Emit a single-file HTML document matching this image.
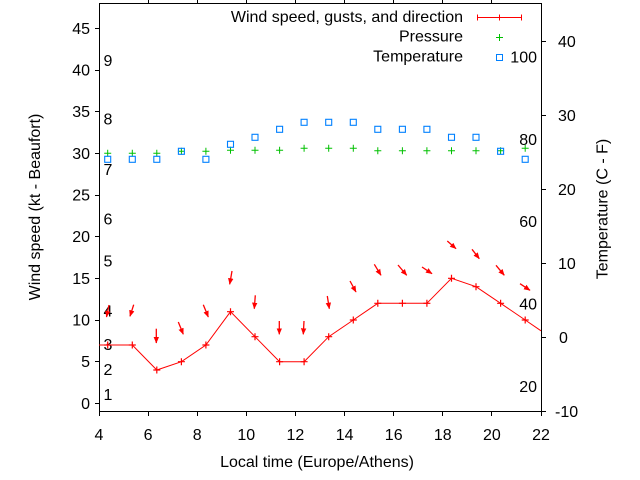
<!DOCTYPE html>
<html><head><meta charset="utf-8"><style>
html,body{margin:0;padding:0;background:#fff;}
svg{display:block;}
text{font-family:"Liberation Sans",Arial,sans-serif;font-size:16px;fill:#000;}
</style></head><body>
<svg width="640" height="480" viewBox="0 0 640 480" xmlns="http://www.w3.org/2000/svg">
<defs>
<marker id="ah" markerUnits="userSpaceOnUse" markerWidth="10" markerHeight="10" refX="6" refY="3" orient="auto">
<path d="M0,0.3 L6.5,3 L0,5.7 z" fill="#ff0000"/>
</marker>
</defs>
<rect width="640" height="480" fill="#fff"/>

<!-- frame -->
<g stroke="#000" stroke-width="1" shape-rendering="crispEdges" fill="none">
<rect x="99.5" y="3.5" width="442" height="408"/>
<!-- bottom ticks -->
<path d="M99.5,411V416M148.5,411V416M197.5,411V416M246.5,411V416M295.5,411V416M344.5,411V416M393.5,411V416M442.5,411V416M491.5,411V416M541.5,411V416"/>
<!-- top ticks -->
<path d="M148.5,0V3M197.5,0V3M246.5,0V3M295.5,0V3M344.5,0V3M393.5,0V3M442.5,0V3M491.5,0V3"/>
<!-- left ticks -->
<path d="M95,403.5H99M95,361.5H99M95,320.5H99M95,278.5H99M95,236.5H99M95,195.5H99M95,153.5H99M95,111.5H99M95,70.5H99M95,28.5H99"/>
<!-- right ticks -->
<path d="M541,411.5H546M541,337.5H546M541,263.5H546M541,189.5H546M541,115.5H546M541,41.5H546"/>
</g>

<!-- x tick labels -->
<g text-anchor="middle">
<text x="99" y="440">4</text>
<text x="148.1" y="440">6</text>
<text x="197.2" y="440">8</text>
<text x="246.3" y="440">10</text>
<text x="295.4" y="440">12</text>
<text x="344.6" y="440">14</text>
<text x="393.7" y="440">16</text>
<text x="442.8" y="440">18</text>
<text x="491.9" y="440">20</text>
<text x="541" y="440">22</text>
<text x="317" y="467">Local time (Europe/Athens)</text>
</g>

<!-- left y labels -->
<g text-anchor="end">
<text x="90" y="409">0</text>
<text x="90" y="367">5</text>
<text x="90" y="325.5">10</text>
<text x="90" y="284">15</text>
<text x="90" y="242">20</text>
<text x="90" y="200.5">25</text>
<text x="90" y="159">30</text>
<text x="90" y="117">35</text>
<text x="90" y="75.5">40</text>
<text x="90" y="34">45</text>
</g>

<!-- right y labels -->
<g>
<text x="555" y="417">-10</text>
<text x="559" y="343">0</text>
<text x="558" y="269">10</text>
<text x="558" y="195">20</text>
<text x="558" y="121">30</text>
<text x="558" y="47">40</text>
</g>

<!-- Fahrenheit labels inside -->
<g text-anchor="end">
<text x="537" y="392">20</text>
<text x="537" y="309.5">40</text>
<text x="537" y="227">60</text>
<text x="537" y="145">80</text>
<text x="537" y="62.5">100</text>
</g>

<!-- Beaufort labels inside -->
<g>
<text x="103.5" y="400">1</text>
<text x="103.5" y="375">2</text>
<text x="103.5" y="350">3</text>
<text x="103.5" y="316.5">4</text>
<text x="103.5" y="266.5">5</text>
<text x="103.5" y="224.5">6</text>
<text x="103.5" y="175">7</text>
<text x="103.5" y="124.5">8</text>
<text x="103.5" y="66">9</text>
</g>

<!-- axis titles -->
<text transform="translate(40,207) rotate(-90)" text-anchor="middle">Wind speed (kt - Beaufort)</text>
<text transform="translate(607.5,209) rotate(-90)" text-anchor="middle">Temperature (C - F)</text>

<!-- legend -->
<g text-anchor="end">
<text x="463" y="22">Wind speed, gusts, and direction</text>
<text x="463" y="41.7">Pressure</text>
<text x="463" y="61.7">Temperature</text>
</g>
<g stroke="#ff0000" stroke-width="1" fill="none" shape-rendering="crispEdges">
<path d="M477,17.5H522M477.5,14.5V20.5M499.5,14.5V20.5M521.5,14.5V20.5"/>
</g>
<g stroke="#00c000" stroke-width="1" fill="none" shape-rendering="crispEdges">
<path d="M496,37.5H503M499.5,34V41"/>
</g>
<rect x="496.5" y="54.5" width="6" height="6" fill="none" stroke="#0080ff" stroke-width="1" shape-rendering="crispEdges"/>

<!-- pressure markers -->
<g stroke="#00c000" stroke-width="1" fill="none">
<path d="M104.2,153.3h7M107.7,149.8v7
M128.8,153.3h7M132.3,149.8v7
M153.3,153.3h7M156.8,149.8v7
M177.9,151.3h7M181.4,147.8v7
M202.4,151.3h7M205.9,147.8v7
M227,150.3h7M230.5,146.8v7
M251.5,150.3h7M255,146.8v7
M276.1,150.3h7M279.6,146.8v7
M300.6,148.3h7M304.1,144.8v7
M325.2,148.3h7M328.7,144.8v7
M349.8,148.3h7M353.3,144.8v7
M374.3,150.7h7M377.8,147.2v7
M398.9,150.7h7M402.4,147.2v7
M423.4,150.7h7M426.9,147.2v7
M448,150.7h7M451.5,147.2v7
M472.5,150.7h7M476,147.2v7
M497.1,150.7h7M500.6,147.2v7
M521.7,148.3h7M525.2,144.8v7"/>
</g>

<!-- temperature squares -->
<g stroke="#0080ff" stroke-width="1.1" fill="none">
<rect x="104.7" y="156.3" width="6" height="6"/>
<rect x="129.3" y="156.3" width="6" height="6"/>
<rect x="153.8" y="156.3" width="6" height="6"/>
<rect x="178.4" y="148.3" width="6" height="6"/>
<rect x="202.9" y="156.3" width="6" height="6"/>
<rect x="227.5" y="141.3" width="6" height="6"/>
<rect x="252" y="134.3" width="6" height="6"/>
<rect x="276.6" y="126.3" width="6" height="6"/>
<rect x="301.1" y="119.3" width="6" height="6"/>
<rect x="325.7" y="119.3" width="6" height="6"/>
<rect x="350.3" y="119.3" width="6" height="6"/>
<rect x="374.8" y="126.3" width="6" height="6"/>
<rect x="399.4" y="126.3" width="6" height="6"/>
<rect x="423.9" y="126.3" width="6" height="6"/>
<rect x="448.5" y="134.3" width="6" height="6"/>
<rect x="473" y="134.3" width="6" height="6"/>
<rect x="497.6" y="148.3" width="6" height="6"/>
<rect x="522.2" y="156.3" width="6" height="6"/>
</g>

<!-- wind line -->
<polyline fill="none" stroke="#ff0000" stroke-width="1" points="99,345 107.7,345 132.3,345 156.8,370 181.4,361.7 205.9,345 230.5,311.7 255,336.7 279.6,361.7 304.1,361.7 328.7,336.7 353.3,320 377.8,303.3 402.4,303.3 426.9,303.3 451.5,278.3 476,286.7 500.6,303.3 525.2,320 541,330.8"/>
<g stroke="#ff0000" stroke-width="1.2" fill="none">
<path d="M104.2,345h7M107.7,341.5v7
M128.8,345h7M132.3,341.5v7
M153.3,370h7M156.8,366.5v7
M177.9,361.7h7M181.4,358.2v7
M202.4,345h7M205.9,341.5v7
M227,311.7h7M230.5,308.2v7
M251.5,336.7h7M255,333.2v7
M276.1,361.7h7M279.6,358.2v7
M300.6,361.7h7M304.1,358.2v7
M325.2,336.7h7M328.7,333.2v7
M349.8,320h7M353.3,316.5v7
M374.3,303.3h7M377.8,299.8v7
M398.9,303.3h7M402.4,299.8v7
M423.4,303.3h7M426.9,299.8v7
M448,278.3h7M451.5,274.8v7
M472.5,286.7h7M476,283.2v7
M497.1,303.3h7M500.6,299.8v7
M521.7,320h7M525.2,316.5v7"/>
</g>

<!-- direction arrows -->
<g stroke="#ff0000" stroke-width="1.3" fill="none" marker-end="url(#ah)">
<line x1="109" y1="305" x2="106.5" y2="317"/>
<line x1="133.7" y1="304.7" x2="130" y2="316.3"/>
<line x1="156.3" y1="328.7" x2="156.3" y2="343"/>
<line x1="178.3" y1="322" x2="183.3" y2="334.3"/>
<line x1="203.3" y1="304.7" x2="208.3" y2="317"/>
<line x1="232" y1="271" x2="229.7" y2="284.3"/>
<line x1="255.3" y1="295.3" x2="254.3" y2="308.7"/>
<line x1="279.3" y1="321" x2="279.3" y2="334.3"/>
<line x1="304" y1="321" x2="303.3" y2="334.3"/>
<line x1="327.3" y1="296" x2="329.3" y2="308.7"/>
<line x1="350" y1="281" x2="356" y2="292"/>
<line x1="374.3" y1="264.3" x2="381" y2="275.3"/>
<line x1="398" y1="265" x2="406.7" y2="275.3"/>
<line x1="422" y1="267" x2="432" y2="273.7"/>
<line x1="447.3" y1="241" x2="456" y2="248.7"/>
<line x1="472" y1="249.3" x2="479.3" y2="258.7"/>
<line x1="496" y1="265.3" x2="504.3" y2="275.3"/>
<line x1="520" y1="283.7" x2="530" y2="290.3"/>
</g>
</svg>
</body></html>
